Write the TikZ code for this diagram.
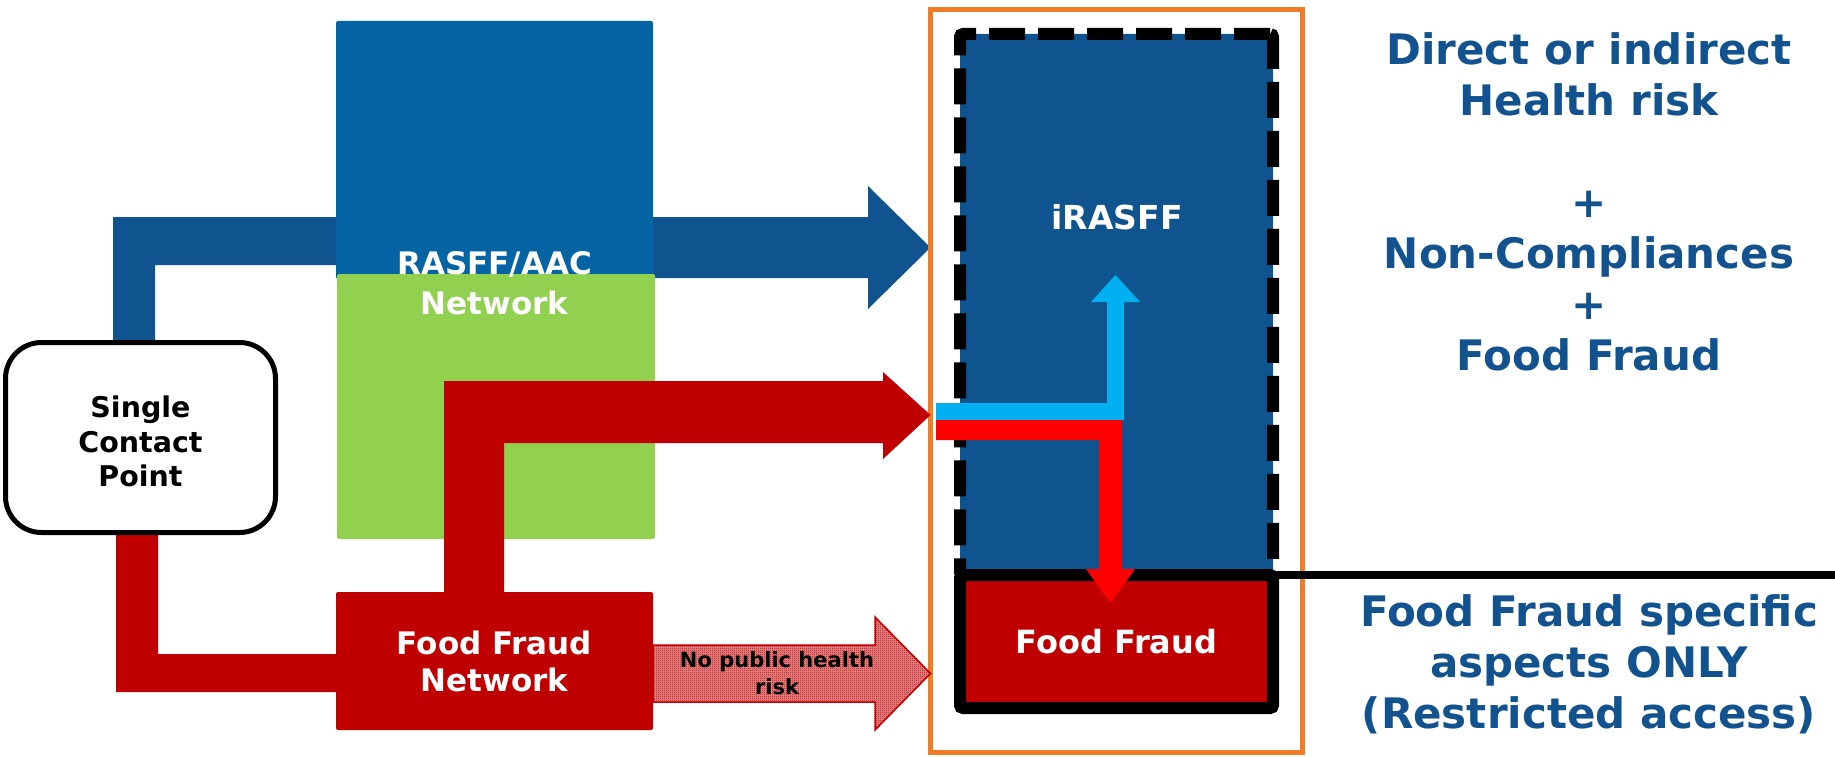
\documentclass[tikz,border=0pt]{standalone}
\usepackage{fontspec}
\setmainfont{DejaVu Sans}
\usetikzlibrary{positioning,patterns,backgrounds}

\definecolor{rasffblue}{HTML}{0564A3}
\definecolor{netblue}{HTML}{10548F}
\definecolor{txtblue}{HTML}{11528F}
\definecolor{aacgreen}{HTML}{92D050}
\definecolor{ffred}{HTML}{C00000}
\definecolor{hotred}{HTML}{FF0000}
\definecolor{skyblue}{HTML}{00B0F0}
\definecolor{frameorange}{HTML}{F07D26}

\pgfdeclarepatternformonly{finecheck}{\pgfpointorigin}{\pgfqpoint{2pt}{2pt}}{\pgfqpoint{2pt}{2pt}}{
  \pgfpathrectangle{\pgfpointorigin}{\pgfqpoint{1pt}{1pt}}
  \pgfpathrectangle{\pgfqpoint{1pt}{1pt}}{\pgfqpoint{1pt}{1pt}}
  \pgfusepath{fill}}

\begin{document}
\begin{tikzpicture}[x=1pt,y=-1pt,
   box/.style={rectangle,inner sep=0pt,outer sep=0pt,rounded corners=2pt,align=center,text=white},
   txt/.style={inner sep=0pt,outer sep=0pt,align=center}]
   \useasboundingbox (0,0) rectangle (1835,757);

   \node[box,fill=rasffblue,minimum width=317,minimum height=258] (rasffbox) at (494.5,150) {};
   \node[box,fill=aacgreen,minimum width=318,minimum height=265] (greenbox) at (496,406.5) {};
   \node[box,fill=ffred,minimum width=317,minimum height=138,font=\bfseries\fontsize{31}{37}\selectfont] (ffnet) at (494.5,661) {Food Fraud\\Network};
   \node[box,fill=white,draw=black,line width=5pt,rounded corners=36pt,text=black,minimum width=270,minimum height=190,font=\bfseries\fontsize{28.5}{34.5}\selectfont] (scp) at (140.5,437.5) {\\[-5pt]Single\\Contact\\Point};
   \node[box,draw=frameorange,line width=5pt,rounded corners=0pt,minimum width=372,minimum height=742] (frame) at (1116.5,381) {};

   \begin{scope}[on background layer]
   \fill[netblue] (113,0 |- scp.north) -- (113,217) -- (868,217) -- (868,186) -- (frame.west |- 0,247.5)
      -- (868,309) -- (868,278) -- (rasffbox.center |- 0,278) -- (rasffbox.center |- 0,265)
      -- (155,265) -- (155,0 |- scp.north) -- cycle;
   \fill[ffred] (116,0 |- scp.south) -- (116,692) -- (ffnet.west |- 0,692) -- (ffnet.west |- 0,654)
      -- (158,654) -- (158,0 |- scp.south) -- cycle;
   \end{scope}

   \fill[ffred] (444,0 |- ffnet.north) -- (444,381) -- (883,381) -- (883,372) -- (frame.west |- 0,415)
      -- (883,459) -- (883,443) -- (504,443) -- (504,0 |- ffnet.north) -- cycle;
   \draw[ffred,line width=1.5pt,preaction={fill=ffred!45!white},pattern=finecheck,pattern color=ffred] (ffnet.east |- 0,645) -- (875,645)
      -- (875,617) -- (frame.west |- 0,673.5) -- (875,730) -- (875,702) -- (ffnet.east |- 0,702) -- cycle;
   \node[txt,font=\bfseries\fontsize{21}{27}\selectfont] (nophr) at (777,673.5) {No public health\\risk};

   \node[txt,text=white,font=\bfseries\fontsize{31}{40}\selectfont] (rasfflbl) at (494.5,283) {RASFF/AAC\\Network};

   \node[box,fill=netblue,draw=black,line width=12pt,dash pattern=on 36pt off 13pt,rounded corners=3pt,minimum width=313,minimum height=541] (irasff) at (1116.5,304.5) {};
   \node[txt,text=white,font=\bfseries\fontsize{33}{41}\selectfont] (irasfflbl) at (1117,217) {iRASFF};
   \node[box,fill=ffred,draw=black,line width=12pt,rounded corners=3pt,minimum width=313,minimum height=133,font=\bfseries\fontsize{32}{38}\selectfont] (ffbox) at (1116.5,641.5) {Food Fraud};

   \fill[skyblue] (936,403) -- (1107,403) -- (1107,302) -- (1091,302) -- (1115.5,275) -- (1140,302)
      -- (1124,302) -- (1124,420) -- (936,420) -- cycle;
   \fill[hotred] (936,420) -- (1122,420) -- (1122,569) -- (1135,569) -- (1110.5,603)
      -- (1086,569) -- (1099,569) -- (1099,440) -- (936,440) -- cycle;

   \draw[line width=8pt] (ffbox.north east |- 0,575) -- (1835,575);

   \node[txt,text=txtblue,font=\bfseries\fontsize{42}{51}\selectfont] (risktxt) at (1589,201.5)
      {Direct or indirect\\Health risk\\[51pt]+\\Non-Compliances\\+\\Food Fraud};
   \node[txt,text=txtblue,font=\bfseries\fontsize{42}{51}\selectfont] (fftxt) at (1589,664.5)
      {Food Fraud specific\\aspects ONLY\\(Restricted access)};
\end{tikzpicture}
\end{document}
